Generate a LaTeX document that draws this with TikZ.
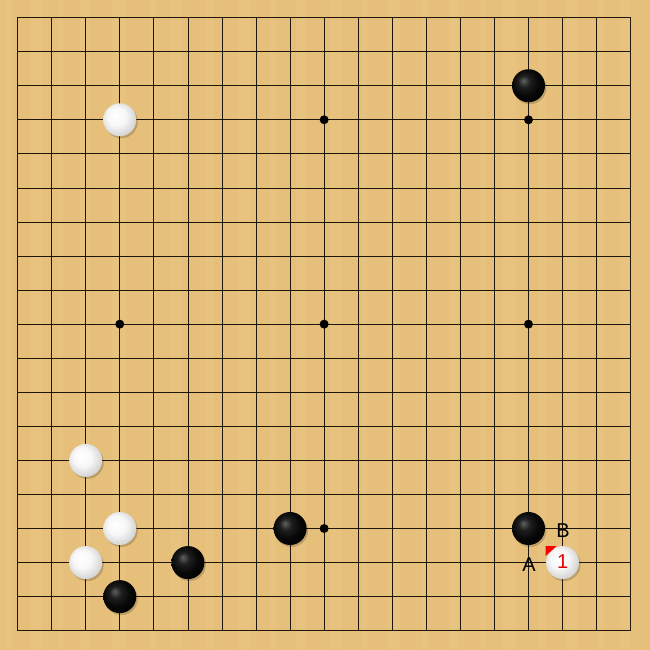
\documentclass[tikz,border=0pt]{standalone}
\usepackage{fontspec}
\setmainfont{Liberation Sans}
\usetikzlibrary{shadings}
\definecolor{wood}{RGB}{230,191,122}
\definecolor{woodlight}{RGB}{240,208,146}
\definecolor{gridc}{RGB}{30,22,10}
\pgfdeclareradialshading{blackstone}{\pgfpoint{-8bp}{8bp}}{%
  color(0bp)=(black!62); color(9bp)=(black!88); color(20bp)=(black!97); color(32bp)=(black); color(50bp)=(black)}
\pgfdeclareradialshading{whitestone}{\pgfpoint{-7bp}{7bp}}{%
  color(0bp)=(white); color(14bp)=(white!97!black); color(26bp)=(white!85!black); color(34bp)=(white!75!black); color(50bp)=(white!75!black)}
\tikzset{
  gridline/.style={gridc, line width=0.8pt},
  boardedge/.style={gridc, line width=1.6pt},
  hoshi/.style={circle, fill=black, inner sep=0pt, minimum size=9pt},
  bstone/.style={circle, inner sep=0pt, minimum size=33pt, shading=blackstone},
  wstone/.style={circle, inner sep=0pt, minimum size=33pt, shading=whitestone},
  shadowc/.style={circle, inner sep=0pt, minimum size=33pt, fill=black, opacity=0.18},
  lbl/.style={inner sep=0pt, font=\fontsize{20}{20}\selectfont},
  movenum/.style={inner sep=0pt, text=red!90!black, font=\fontsize{20}{20}\selectfont},
}
\begin{document}
\begin{tikzpicture}[x=1pt,y=-1pt]
\useasboundingbox (0,0) rectangle (650,650);
\fill[wood] (0,0) rectangle (650,650);
\foreach \xa/\w in {5/7,31/12,58/5,80/9,112/14,150/6,171/10,205/8,238/13,270/6,296/9,330/11,362/5,388/12,421/7,449/10,480/6,503/13,538/8,566/11,598/6,620/10} {
  \fill[woodlight, opacity=0.28] (\xa,0) rectangle (\xa+\w,650);
}
\def\gs{34.06}
\def\go{17.6}
\foreach \i in {1,...,17} {
  \draw[gridline] (\go+\i*\gs,\go) -- (\go+\i*\gs,\go+18*\gs);
  \draw[gridline] (\go,\go+\i*\gs) -- (\go+18*\gs,\go+\i*\gs);
}
\draw[boardedge] (\go,\go) rectangle (\go+18*\gs,\go+18*\gs);
\foreach \c/\r [count=\k] in {3/3,9/3,15/3,3/9,9/9,15/9,3/15,9/15,15/15} {
  \node[hoshi] (h\k) at (\go+\c*\gs,\go+\r*\gs) {};
}
% shadows
\foreach \c/\r in {15/2,3/3,2/13,3/15,2/16,3/17,5/16,8/15,15/15,16/16} {
  \node[shadowc] at (\go+\c*\gs+1.5,\go+\r*\gs+2) {};
}
% black stones
\foreach \c/\r/\n in {15/2/b1,3/17/b2,5/16/b3,8/15/b4,15/15/b5} {
  \node[bstone] (\n) at (\go+\c*\gs,\go+\r*\gs) {};
}
% white stones
\foreach \c/\r/\n in {3/3/w1,2/13/w2,3/15/w3,2/16/w4,16/16/w5} {
  \node[wstone] (\n) at (\go+\c*\gs,\go+\r*\gs) {};
}
\node[movenum] (n1) at ([yshift=1pt]w5) {1};
\fill[red] (\go+16*\gs-17,\go+16*\gs-16.5) -- ++(11,0) -- ++(-11,10) -- cycle;
\node[lbl] (lA) at (\go+15*\gs+0.5,\go+16*\gs+2) {A};
\node[lbl] (lB) at (\go+16*\gs+0.5,\go+15*\gs+2) {B};
\end{tikzpicture}
\end{document}
